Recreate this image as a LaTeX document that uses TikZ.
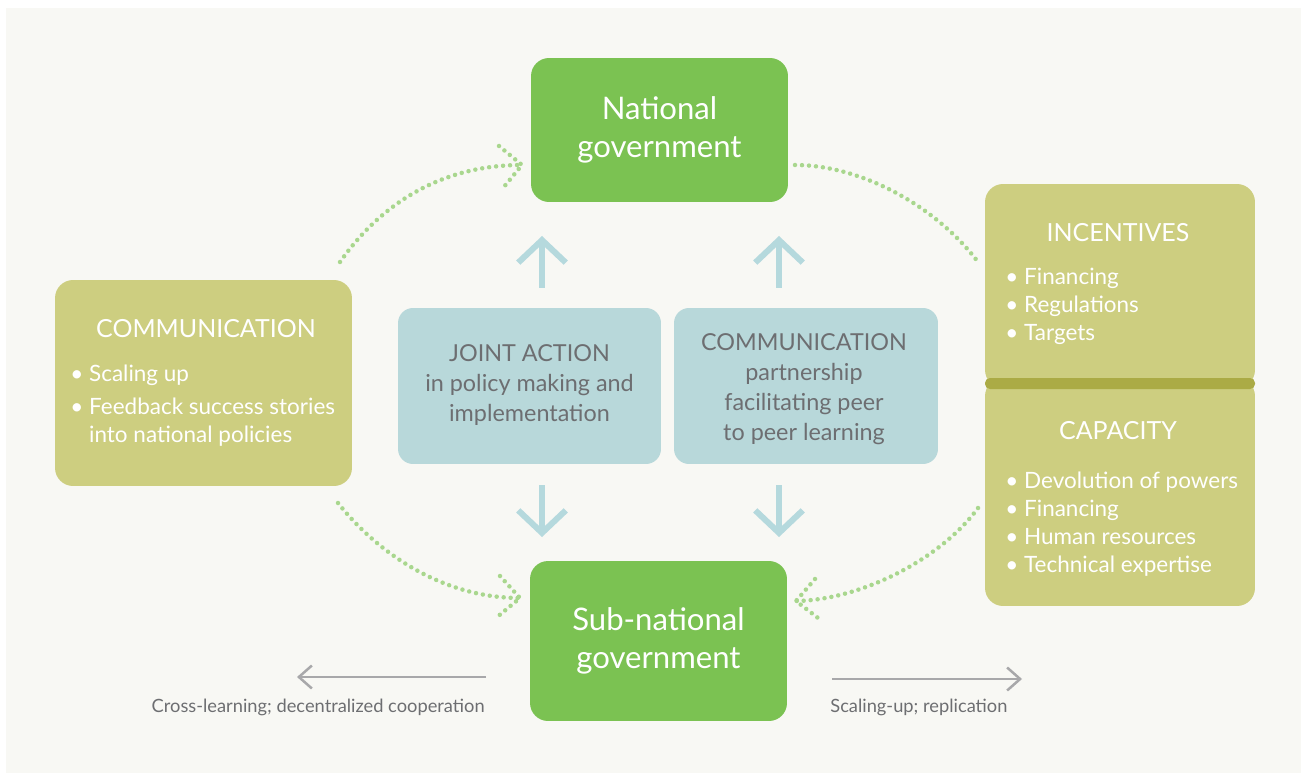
\documentclass[tikz,border=0pt]{standalone}
\usepackage{fontspec}
\setmainfont{Lato}
\usepackage{tikz}
\usetikzlibrary{positioning}
\usetikzlibrary{calc,arrows.meta}
\definecolor{bgpaper}{RGB}{248,248,244}
\definecolor{govgreen}{RGB}{123,194,82}
\definecolor{olivebox}{RGB}{205,206,128}
\definecolor{oliveband}{RGB}{171,171,69}
\definecolor{tealbox}{RGB}{184,216,218}
\definecolor{tealarrow}{RGB}{181,217,221}
\definecolor{dotgreen}{RGB}{169,215,142}
\definecolor{greytext}{RGB}{109,110,113}
\definecolor{greyline}{RGB}{168,168,170}

\begin{document}
\begin{tikzpicture}[x=0.02cm, y=-0.02cm,
        govbox/.style={fill=govgreen, rounded corners=0.36cm, minimum width=5.14cm,
          text=white, align=center, font=\fontsize{17.7}{21.5}\selectfont},
        olive/.style={fill=olivebox, rounded corners=0.36cm, minimum width=5.4cm},
        teal/.style={fill=tealbox, rounded corners=0.3cm, minimum width=5.26cm, minimum height=3.12cm},
        boxtitle/.style={text=white, inner sep=0pt, font=\fontsize{14.2}{17}\selectfont},
        boxlist/.style={text=white, inner sep=0pt, align=left, font=\fontsize{12.8}{15.9}\selectfont},
        midtext/.style={text=greytext, inner sep=0pt, align=center, font=\fontsize{13.3}{17}\selectfont},
        sidelabel/.style={text=greytext, inner sep=0pt, font=\fontsize{10.4}{12}\selectfont},
        dotline/.style={color=dotgreen, line width=0.09cm, line cap=round, dash pattern=on 0pt off 0.14cm},
        upar/.style={draw=tealarrow, line width=0.12cm, -{Straight Barb[length=0.45cm,width=0.95cm]}},
        greyar/.style={draw=greyline, line width=0.05cm, -{Straight Barb[length=0.26cm,width=0.46cm]}}]
        % paper
        \fill[white] (0,0) rectangle (1307,780);
        \fill[bgpaper] (6,8) rectangle (1301,773);

        % government boxes
        \node[govbox, minimum height=2.88cm] (natl) at (659.5,130) {National\\government};
        \node[govbox, minimum height=3.2cm] (subn) at (658.5,641) {Sub-national\\government};

        % left box
        \node[olive, minimum width=5.94cm, minimum height=4.12cm] (commL) at (203.5,383) {};
        \node[boxtitle] (commLtitle) at (206,329) {COMMUNICATION};
        \node[boxlist, anchor=west] (commLlist) at (70,406)
          {\textbullet\ Scaling up\\[3pt]
           \textbullet\ Feedback success stories\\
           \hphantom{\textbullet\ }into national policies};

        % middle boxes
        \node[teal] (joint) at (529.5,386) {};
        \node[midtext] (jointtext) at (529.5,385)
          {JOINT ACTION\\in policy making and\\implementation};
        \node[teal, minimum width=5.28cm] (commM) at (806,386) {};
        \node[midtext] (commMtext) at (804,389)
          {COMMUNICATION\\partnership\\facilitating peer\\to peer learning};

        % right boxes
        \node[olive, minimum height=4.08cm] (incent) at (1120,286) {};
        \node[olive, minimum height=4.56cm] (capac) at (1120,492) {};
        \fill[oliveband, rounded corners=0.1cm] (985,378) rectangle (1255,389);
        \node[boxtitle] (incenttitle) at (1118,233) {INCENTIVES};
        \node[boxlist, anchor=west] (incentlist) at (1005,306)
          {\textbullet\ Financing\\\textbullet\ Regulations\\\textbullet\ Targets};
        \node[boxtitle] (capactitle) at (1118,431) {CAPACITY};
        \node[boxlist, anchor=west] (capaclist) at (1005,524)
          {\textbullet\ Devolution of powers\\\textbullet\ Financing\\\textbullet\ Human resources\\\textbullet\ Technical expertise};

        % teal arrows
        \coordinate (upAs) at (542,288);
        \coordinate (upAe) at (542,236);
        \coordinate (upBs) at (779,288);
        \coordinate (upBe) at (779,236);
        \coordinate (dnAs) at (542,485);
        \coordinate (dnAe) at (542,537);
        \coordinate (dnBs) at (779,485);
        \coordinate (dnBe) at (779,537);
        \draw[upar] (upAs) -- (upAe);
        \draw[upar] (upBs) -- (upBe);
        \draw[upar] (dnAs) -- (dnAe);
        \draw[upar] (dnBs) -- (dnBe);

        % dotted loops
        \coordinate (tipNW) at (522,165);
        \coordinate (tipSW) at (520,598);
        \coordinate (tipSE) at (796,601);
        \draw[dotline] (340,262) .. controls (380,205) and (440,165) .. (tipNW);
        \draw[dotline] ($(tipNW)+(-23,-19)$) -- (tipNW) -- ($(tipNW)+(-19,23)$);
        \draw[dotline] (795,165) .. controls (860,165) and (935,205) .. (978,262);
        \draw[dotline] (338,503) .. controls (375,550) and (440,598) .. (tipSW);
        \draw[dotline] ($(tipSW)+(-20,-22)$) -- (tipSW) -- ($(tipSW)+(-24,20)$);
        \draw[dotline] (978,508) .. controls (940,560) and (860,600) .. (tipSE);
        \draw[dotline] ($(tipSE)+(19,-22)$) -- (tipSE) -- ($(tipSE)+(22,17)$);

        % side arrows
        \coordinate (crossS) at (486,677);
        \coordinate (crossE) at (297,677);
        \coordinate (scaleS) at (832,679);
        \coordinate (scaleE) at (1022,679);
        \draw[greyar] (crossS) -- (crossE);
        \draw[greyar] (scaleS) -- (scaleE);
        \node[sidelabel, anchor=east] (crosslbl) at (485,707) {Cross-learning; decentralized cooperation};
        \node[sidelabel, anchor=west] (scalelbl) at (830,707) {Scaling-up; replication};
    \end{tikzpicture}
\end{document}
